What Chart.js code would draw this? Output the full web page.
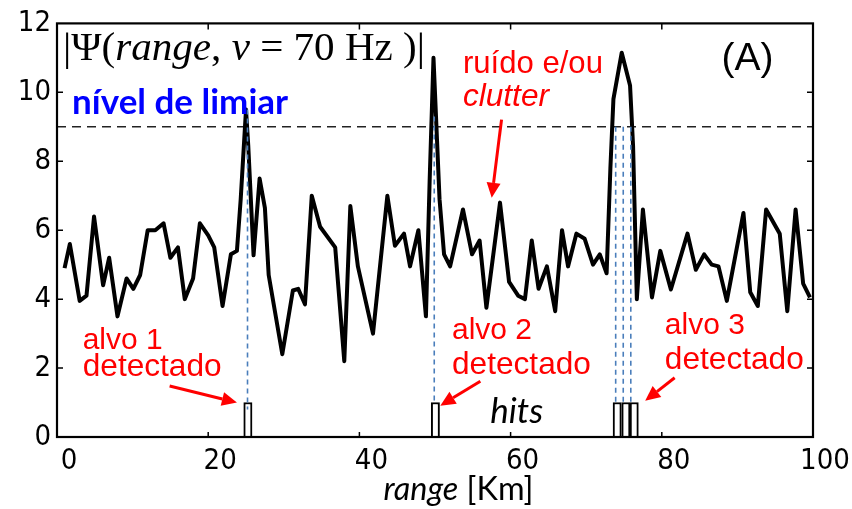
<!DOCTYPE html>
<html>
<head>
<meta charset="utf-8">
<script src="https://cdn.jsdelivr.net/npm/chart.js@4/dist/chart.umd.min.js"></script>
<style>
  html, body { margin: 0; padding: 0; background: #fff; }
  #wrap { width: 852px; height: 509px; }
</style>
</head>
<body>
<div id="wrap"><canvas id="radar" width="852" height="509"></canvas></div>
<script>
// range [Km] and |Psi|
const rangeKm = [1.0, 1.7, 3.0, 3.9, 4.9, 6.1, 6.9, 8.0, 9.2, 10.1, 11.0, 12.0, 13.0, 14.1, 15.0, 16.0, 16.9, 18.0, 18.9, 20.0,
  20.8, 21.9, 23.0, 23.8, 24.3, 25.0, 25.3, 26.0, 26.8, 27.5, 28.0, 29.8, 31.2, 31.9, 32.8, 33.7, 34.8, 36.8, 38.0, 38.8,
  39.8, 41.8, 43.7, 44.7, 45.9, 46.7, 47.8, 48.8, 49.3, 49.8, 50.6, 51.2, 52.0, 53.7, 54.9, 55.9, 56.8, 58.6, 59.8, 61.0,
  61.9, 62.8, 63.7, 64.8, 65.9, 66.8, 67.6, 68.7, 69.8, 70.9, 71.8, 72.7, 73.2, 73.6, 74.7, 75.8, 76.2, 76.7, 77.5, 78.7,
  79.8, 81.2, 83.4, 84.5, 85.6, 86.6, 87.5, 88.6, 90.8, 91.7, 92.7, 93.8, 95.6, 96.6, 97.7, 98.7, 99.6];
const psi = [4.9, 5.6, 3.95, 4.1, 6.4, 4.4, 5.2, 3.5, 4.6, 4.3, 4.7, 6.0, 6.0, 6.2, 5.2, 5.5, 4.0, 4.6, 6.2, 5.85,
  5.5, 3.8, 5.3, 5.4, 6.9, 9.5, 8.45, 5.27, 7.5, 6.65, 4.7, 2.4, 4.25, 4.3, 3.85, 7.0, 6.1, 5.5, 2.2, 6.7,
  4.95, 3.0, 7.0, 5.55, 5.9, 4.95, 6.0, 3.5, 7.5, 11.0, 6.9, 5.3, 4.95, 6.6, 5.3, 5.7, 3.75, 6.8, 4.5, 4.1,
  4.0, 5.7, 4.3, 4.95, 3.65, 6.0, 4.95, 5.9, 5.75, 5.0, 5.3, 4.75, 7.8, 9.8, 11.15, 10.2, 8.45, 4.0, 6.6, 4.05,
  5.4, 4.28, 5.9, 4.85, 5.3, 5.0, 4.95, 3.95, 6.5, 4.2, 3.8, 6.6, 5.9, 3.65, 6.6, 4.45, 4.05];

const thresholdLevel = 9;
const detectKm = [25.2, 49.9, 73.9, 74.9, 75.9];
const detectTop = [9.5, 9.3, 9, 9, 9];
const detectBottom = [0.8, 1, 1, 1, 1];
const hitKm = [25.25, 50.05, 74.1, 75.25, 76.35];
const hitValue = [1, 1, 1, 1, 1];
const xTicks = [0, 20, 40, 60, 80, 100];
const yTicks = [0, 2, 4, 6, 8, 10, 12];

const signal = rangeKm.map((r, i) => ({ x: r, y: psi[i] }));
const thresholdLine = [{ x: 0, y: thresholdLevel }, { x: 100, y: thresholdLevel }];
const detectLines = [];
detectKm.forEach((r, i) => {
  detectLines.push({ x: r, y: detectTop[i] }, { x: r, y: detectBottom[i] }, { x: r, y: null });
});
const hits = hitKm.map((r, i) => ({ x: r, y: hitValue[i] }));

const tickFont = { family: "'DejaVu Sans Condensed', 'Liberation Sans Narrow', sans-serif", size: 29 };

function fitFont(ctx, runs, target, base) {
  let w = 0;
  runs.forEach(r => { ctx.font = r.style + ' ' + base + 'px ' + r.family; w += ctx.measureText(r.text).width; });
  return base * target / w;
}

function drawRuns(ctx, runs, x, y, size, color) {
  ctx.fillStyle = color;
  ctx.textBaseline = 'alphabetic';
  ctx.textAlign = 'left';
  runs.forEach(r => {
    ctx.font = r.style + ' ' + size + 'px ' + r.family;
    ctx.fillText(r.text, x, y);
    x += ctx.measureText(r.text).width;
  });
}

function arrow(ctx, x0, y0, x1, y1) {
  const a = Math.atan2(y1 - y0, x1 - x0);
  const head = 15, half = 7;
  ctx.save();
  ctx.strokeStyle = '#ff0000';
  ctx.fillStyle = '#ff0000';
  ctx.lineWidth = 3;
  ctx.beginPath();
  ctx.moveTo(x0, y0);
  ctx.lineTo(x1 - head * Math.cos(a), y1 - head * Math.sin(a));
  ctx.stroke();
  ctx.beginPath();
  ctx.moveTo(x1, y1);
  ctx.lineTo(x1 - head * Math.cos(a) + half * Math.sin(a), y1 - head * Math.sin(a) - half * Math.cos(a));
  ctx.lineTo(x1 - head * Math.cos(a) - half * Math.sin(a), y1 - head * Math.sin(a) + half * Math.cos(a));
  ctx.closePath();
  ctx.fill();
  ctx.restore();
}

const SANS = "'Liberation Sans', Arial, sans-serif";
const CAL = "Lato, 'Open Sans', sans-serif";
const SERIF = "'Liberation Serif', 'DejaVu Serif', serif";

// annotations, anchored in data units (range, |Psi|)
const notes = [
  { x: 0.8, y: 10.95, w: 362, color: '#000', runs: [
    { text: '|Ψ(', style: '', family: SERIF },
    { text: 'range', style: 'italic', family: SERIF },
    { text: ', ', style: '', family: SERIF },
    { text: 'v', style: 'italic', family: SERIF },
    { text: ' = 70 Hz )|', style: '', family: SERIF }] },
  { x: 2.0, y: 9.36, w: 216, color: '#0000ff', runs: [{ text: 'nível de limiar', style: 'bold', family: CAL }] },
  { x: 53.7, y: 10.55, w: 140, color: '#ff0000', runs: [{ text: 'ruído e/ou', style: '', family: SANS }] },
  { x: 53.7, y: 9.59, w: 86, color: '#ff0000', runs: [{ text: 'clutter', style: 'italic', family: SANS }] },
  { x: 87.9, y: 10.64, w: 52, color: '#000', runs: [{ text: '(A)', style: '', family: SANS }] },
  { x: 3.4, y: 2.56, w: 80, color: '#ff0000', runs: [{ text: 'alvo 1', style: '', family: SANS }] },
  { x: 3.4, y: 1.76, w: 139, color: '#ff0000', runs: [{ text: 'detectado', style: '', family: SANS }] },
  { x: 52.25, y: 2.85, w: 80, color: '#ff0000', runs: [{ text: 'alvo 2', style: '', family: SANS }] },
  { x: 52.25, y: 1.82, w: 139, color: '#ff0000', runs: [{ text: 'detectado', style: '', family: SANS }] },
  { x: 80.4, y: 2.99, w: 80, color: '#ff0000', runs: [{ text: 'alvo 3', style: '', family: SANS }] },
  { x: 80.4, y: 1.96, w: 139, color: '#ff0000', runs: [{ text: 'detectado', style: '', family: SANS }] },
  { x: 57.3, y: 0.4, w: 53, color: '#000', runs: [{ text: 'hits', style: 'italic', family: CAL }] },
  { x: 43.2, y: -1.82, w: 150, color: '#000', runs: [
    { text: 'range', style: 'italic', family: CAL },
    { text: ' [Km]', style: '', family: CAL }] }
];

const arrows = [
  [14.9, 1.48, 23.8, 1.0],
  [56.0, 1.62, 50.7, 0.91],
  [81.7, 1.72, 77.8, 1.05],
  [58.8, 9.21, 57.5, 6.94]
];

const overlay = {
  id: 'overlay',
  afterDraw(chart) {
    const ctx = chart.ctx;
    const xs = chart.scales.x, ys = chart.scales.y;
    const a = chart.chartArea;
    ctx.save();
    // frame
    ctx.strokeStyle = '#000';
    ctx.lineWidth = 2.2;
    ctx.strokeRect(a.left, a.top, a.right - a.left, a.bottom - a.top);
    // inner ticks
    ctx.lineWidth = 1.5;
    ctx.beginPath();
    yTicks.slice(1, -1).forEach(v => {
      const y = ys.getPixelForValue(v);
      ctx.moveTo(a.left, y); ctx.lineTo(a.left + 6, y);
      ctx.moveTo(a.right, y); ctx.lineTo(a.right - 6, y);
    });
    xTicks.slice(1, -1).forEach(v => {
      const x = xs.getPixelForValue(v);
      ctx.moveTo(x, a.top); ctx.lineTo(x, a.top + 6);
      ctx.moveTo(x, a.bottom); ctx.lineTo(x, a.bottom - 5);
    });
    ctx.stroke();
    // texts
    notes.forEach(n => {
      const size = fitFont(ctx, n.runs, n.w, 30);
      drawRuns(ctx, n.runs, xs.getPixelForValue(n.x), ys.getPixelForValue(n.y), size, n.color);
    });
    arrows.forEach(p => arrow(ctx, xs.getPixelForValue(p[0]), ys.getPixelForValue(p[1]),
      xs.getPixelForValue(p[2]), ys.getPixelForValue(p[3])));
    ctx.restore();
  }
};

new Chart(document.getElementById('radar'), {
  type: 'line',
  data: {
    datasets: [
      { label: 'detect', data: detectLines, borderColor: '#4a7ebb', borderWidth: 1.6, borderDash: [5, 4],
        pointRadius: 0, spanGaps: false, order: 0 },
      { label: 'psi', data: signal, borderColor: '#000', borderWidth: 4, pointRadius: 0, tension: 0,
        borderJoinStyle: 'round', order: 1 },
      { label: 'threshold', data: thresholdLine, borderColor: '#222', borderWidth: 1.5, borderDash: [9, 6],
        pointRadius: 0, order: 2 },
      { type: 'bar', label: 'hits', data: hits, backgroundColor: '#fff', borderColor: '#000', borderWidth: 2,
        barPercentage: 1, categoryPercentage: 1, order: 3 }
    ]
  },
  options: {
    responsive: false,
    animation: false,
    layout: { padding: { top: 15, right: 39, left: 0, bottom: 0 } },
    plugins: { legend: { display: false }, tooltip: { enabled: false } },
    scales: {
      x: {
        type: 'linear', min: 0, max: 100, offset: false,
        grid: { display: false, drawTicks: false },
        border: { display: false },
        ticks: { stepSize: 20, color: '#000', font: tickFont, padding: 7, labelOffset: 12, maxRotation: 0 },
        afterFit: s => { s.height = 72; }
      },
      y: {
        min: 0, max: 12,
        grid: { display: false, drawTicks: false },
        border: { display: false },
        ticks: { stepSize: 2, color: '#000', font: tickFont, padding: 6 },
        afterFit: s => { s.width = 57; }
      }
    }
  },
  plugins: [overlay]
});
</script>
</body>
</html>
